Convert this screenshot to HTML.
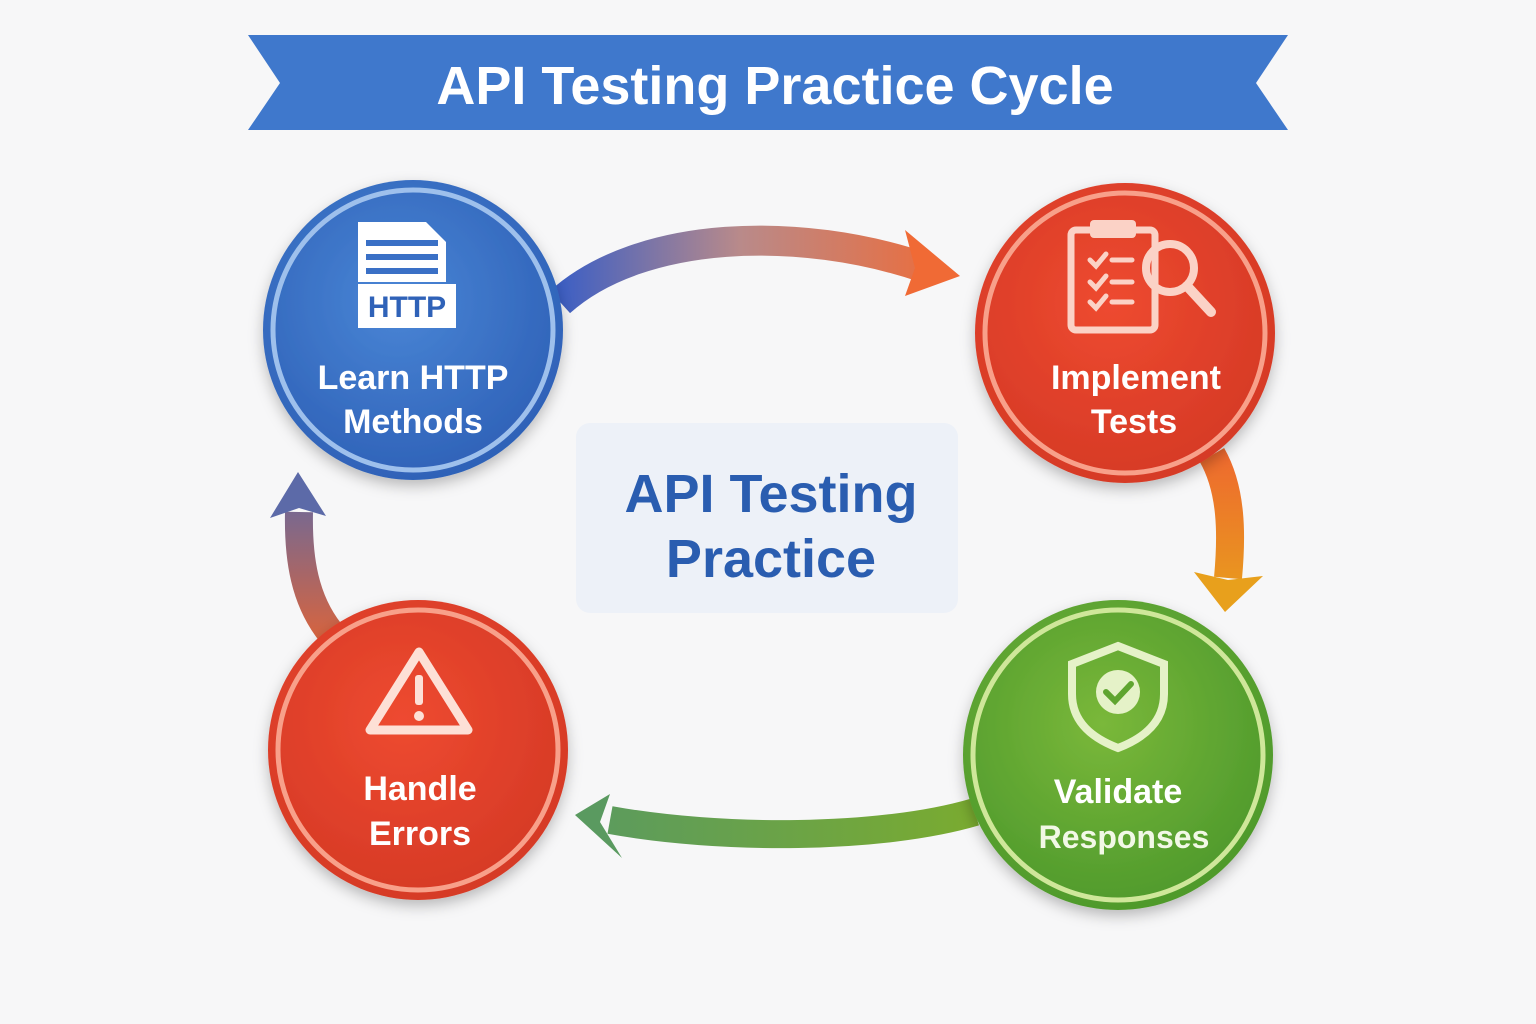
<!DOCTYPE html>
<html><head><meta charset="utf-8"><style>
html,body{margin:0;padding:0;background:#f7f7f8;}
svg{display:block;font-family:"Liberation Sans","DejaVu Sans",sans-serif;}
</style></head><body>
<svg width="1536" height="1024" viewBox="0 0 1536 1024" xmlns="http://www.w3.org/2000/svg">
<defs>
<linearGradient id="gTop" x1="560" y1="0" x2="960" y2="0" gradientUnits="userSpaceOnUse"><stop offset="0" stop-color="#3d5fc4"/><stop offset="0.45" stop-color="#b98a8a"/><stop offset="1" stop-color="#f06a35"/></linearGradient>
<linearGradient id="gRight" x1="0" y1="455" x2="0" y2="612" gradientUnits="userSpaceOnUse"><stop offset="0" stop-color="#ee6a2e"/><stop offset="1" stop-color="#e8a01c"/></linearGradient>
<linearGradient id="gBot" x1="975" y1="0" x2="575" y2="0" gradientUnits="userSpaceOnUse"><stop offset="0" stop-color="#7aab30"/><stop offset="1" stop-color="#5a9a60"/></linearGradient>
<linearGradient id="gLeft" x1="0" y1="640" x2="0" y2="472" gradientUnits="userSpaceOnUse"><stop offset="0" stop-color="#d8643e"/><stop offset="1" stop-color="#5c6aa8"/></linearGradient>
<radialGradient id="cb" cx="0.45" cy="0.4" r="0.6"><stop offset="0" stop-color="#4a86d6"/><stop offset="1" stop-color="#2f62b8"/></radialGradient>
<radialGradient id="cr" cx="0.45" cy="0.4" r="0.6"><stop offset="0" stop-color="#ee4a30"/><stop offset="1" stop-color="#d63a26"/></radialGradient>
<radialGradient id="cg" cx="0.45" cy="0.4" r="0.6"><stop offset="0" stop-color="#7ab83a"/><stop offset="1" stop-color="#4f9a2c"/></radialGradient>
<filter id="sh" x="-20%" y="-20%" width="140%" height="140%"><feDropShadow dx="0" dy="6" stdDeviation="7" flood-color="#000" flood-opacity="0.25"/></filter>
</defs>

<!-- banner -->
<polygon points="248,35 1288,35 1256,83 1288,130 248,130 280,83" fill="#3f78cc"/>
<text x="775" y="104" text-anchor="middle" font-size="54" font-weight="bold" fill="#fff">API Testing Practice Cycle</text>

<!-- arrows -->
<path d="M560,302 C640,230 800,225 925,268" fill="none" stroke="url(#gTop)" stroke-width="30"/>
<polygon points="960,276 905,230 915,268 905,296" fill="#f06a35"/>
<path d="M1212,455 C1232,490 1232,535 1228,578" fill="none" stroke="url(#gRight)" stroke-width="28"/>
<polygon points="1225,612 1194,572 1228,580 1263,576" fill="#e8a01c"/>
<path d="M975,812 C880,840 720,840 610,820" fill="none" stroke="url(#gBot)" stroke-width="28"/>
<polygon points="575,815 610,794 600,822 622,858" fill="#5a9a60"/>
<path d="M330,632 C305,600 298,560 299,512" fill="none" stroke="url(#gLeft)" stroke-width="28"/>
<polygon points="298,472 270,518 299,508 326,516" fill="#5c6aa8"/>

<!-- center box -->
<rect x="576" y="423" width="382" height="190" rx="14" fill="#edf1f8"/>
<text x="771" y="512" text-anchor="middle" font-size="54" font-weight="bold" fill="#2a5db0">API Testing</text>
<text x="771" y="577" text-anchor="middle" font-size="54" font-weight="bold" fill="#2a5db0">Practice</text>

<!-- blue circle -->
<g filter="url(#sh)"><circle cx="413" cy="330" r="150" fill="url(#cb)"/></g>
<circle cx="413" cy="330" r="140" fill="none" stroke="#9ec0ec" stroke-width="5"/>
<path d="M358,222 h68 l20,20 v40 h-88z" fill="#fff"/>
<rect x="366" y="240" width="72" height="6" fill="#3a70c6"/><rect x="366" y="254" width="72" height="6" fill="#3a70c6"/><rect x="366" y="268" width="72" height="6" fill="#3a70c6"/>
<rect x="358" y="284" width="98" height="44" fill="#fff"/>
<text x="407" y="317" text-anchor="middle" font-size="30" font-weight="bold" fill="#2f62b8">HTTP</text>
<text x="413" y="389" text-anchor="middle" font-size="34" font-weight="bold" fill="#fff">Learn HTTP</text>
<text x="413" y="433" text-anchor="middle" font-size="34" font-weight="bold" fill="#fff">Methods</text>

<!-- red top right -->
<g filter="url(#sh)"><circle cx="1125" cy="333" r="150" fill="url(#cr)"/></g>
<circle cx="1125" cy="333" r="140" fill="none" stroke="#f8a08a" stroke-width="5"/>
<rect x="1071" y="230" width="84" height="100" rx="5" fill="none" stroke="#fbd2c6" stroke-width="7"/>
<rect x="1090" y="220" width="46" height="18" rx="4" fill="#fbd2c6"/>
<g stroke="#fbd2c6" stroke-width="5" fill="none" stroke-linecap="round">
<path d="M1090,260 l6,6 l10,-12 M1112,260 h20 M1090,282 l6,6 l10,-12 M1112,282 h20 M1090,302 l6,6 l10,-12 M1112,302 h20"/>
<circle cx="1170" cy="268" r="24" stroke-width="8"/><path d="M1187,286 l24,26" stroke-width="10"/></g>
<text x="1136" y="389" text-anchor="middle" font-size="34" font-weight="bold" fill="#fff">Implement</text>
<text x="1134" y="433" text-anchor="middle" font-size="34" font-weight="bold" fill="#fff">Tests</text>

<!-- green -->
<g filter="url(#sh)"><circle cx="1118" cy="755" r="155" fill="url(#cg)"/></g>
<circle cx="1118" cy="755" r="145" fill="none" stroke="#cfe79a" stroke-width="5"/>
<path d="M1118,646 l46,18 v30 c0,28 -20,44 -46,54 c-26,-10 -46,-26 -46,-54 v-30z" fill="none" stroke="#e5f2c8" stroke-width="8"/>
<circle cx="1118" cy="692" r="22" fill="#e5f2c8"/>
<path d="M1106,692 l9,9 l16,-17" fill="none" stroke="#5fa530" stroke-width="6" stroke-linecap="round"/>
<text x="1118" y="803" text-anchor="middle" font-size="34" font-weight="bold" fill="#fff">Validate</text>
<text x="1124" y="848" text-anchor="middle" font-size="32" font-weight="bold" fill="#f2f8e6">Responses</text>

<!-- red bottom left -->
<g filter="url(#sh)"><circle cx="418" cy="750" r="150" fill="url(#cr)"/></g>
<circle cx="418" cy="750" r="140" fill="none" stroke="#f8a08a" stroke-width="5"/>
<path d="M419,652 L468,730 H370z" fill="none" stroke="#fde0d6" stroke-width="9" stroke-linejoin="round"/>
<rect x="415" y="675" width="8" height="30" rx="3" fill="#fde0d6"/><circle cx="419" cy="716" r="5" fill="#fde0d6"/>
<text x="420" y="800" text-anchor="middle" font-size="34" font-weight="bold" fill="#fff">Handle</text>
<text x="420" y="845" text-anchor="middle" font-size="34" font-weight="bold" fill="#fff">Errors</text>
</svg>
</body></html>
